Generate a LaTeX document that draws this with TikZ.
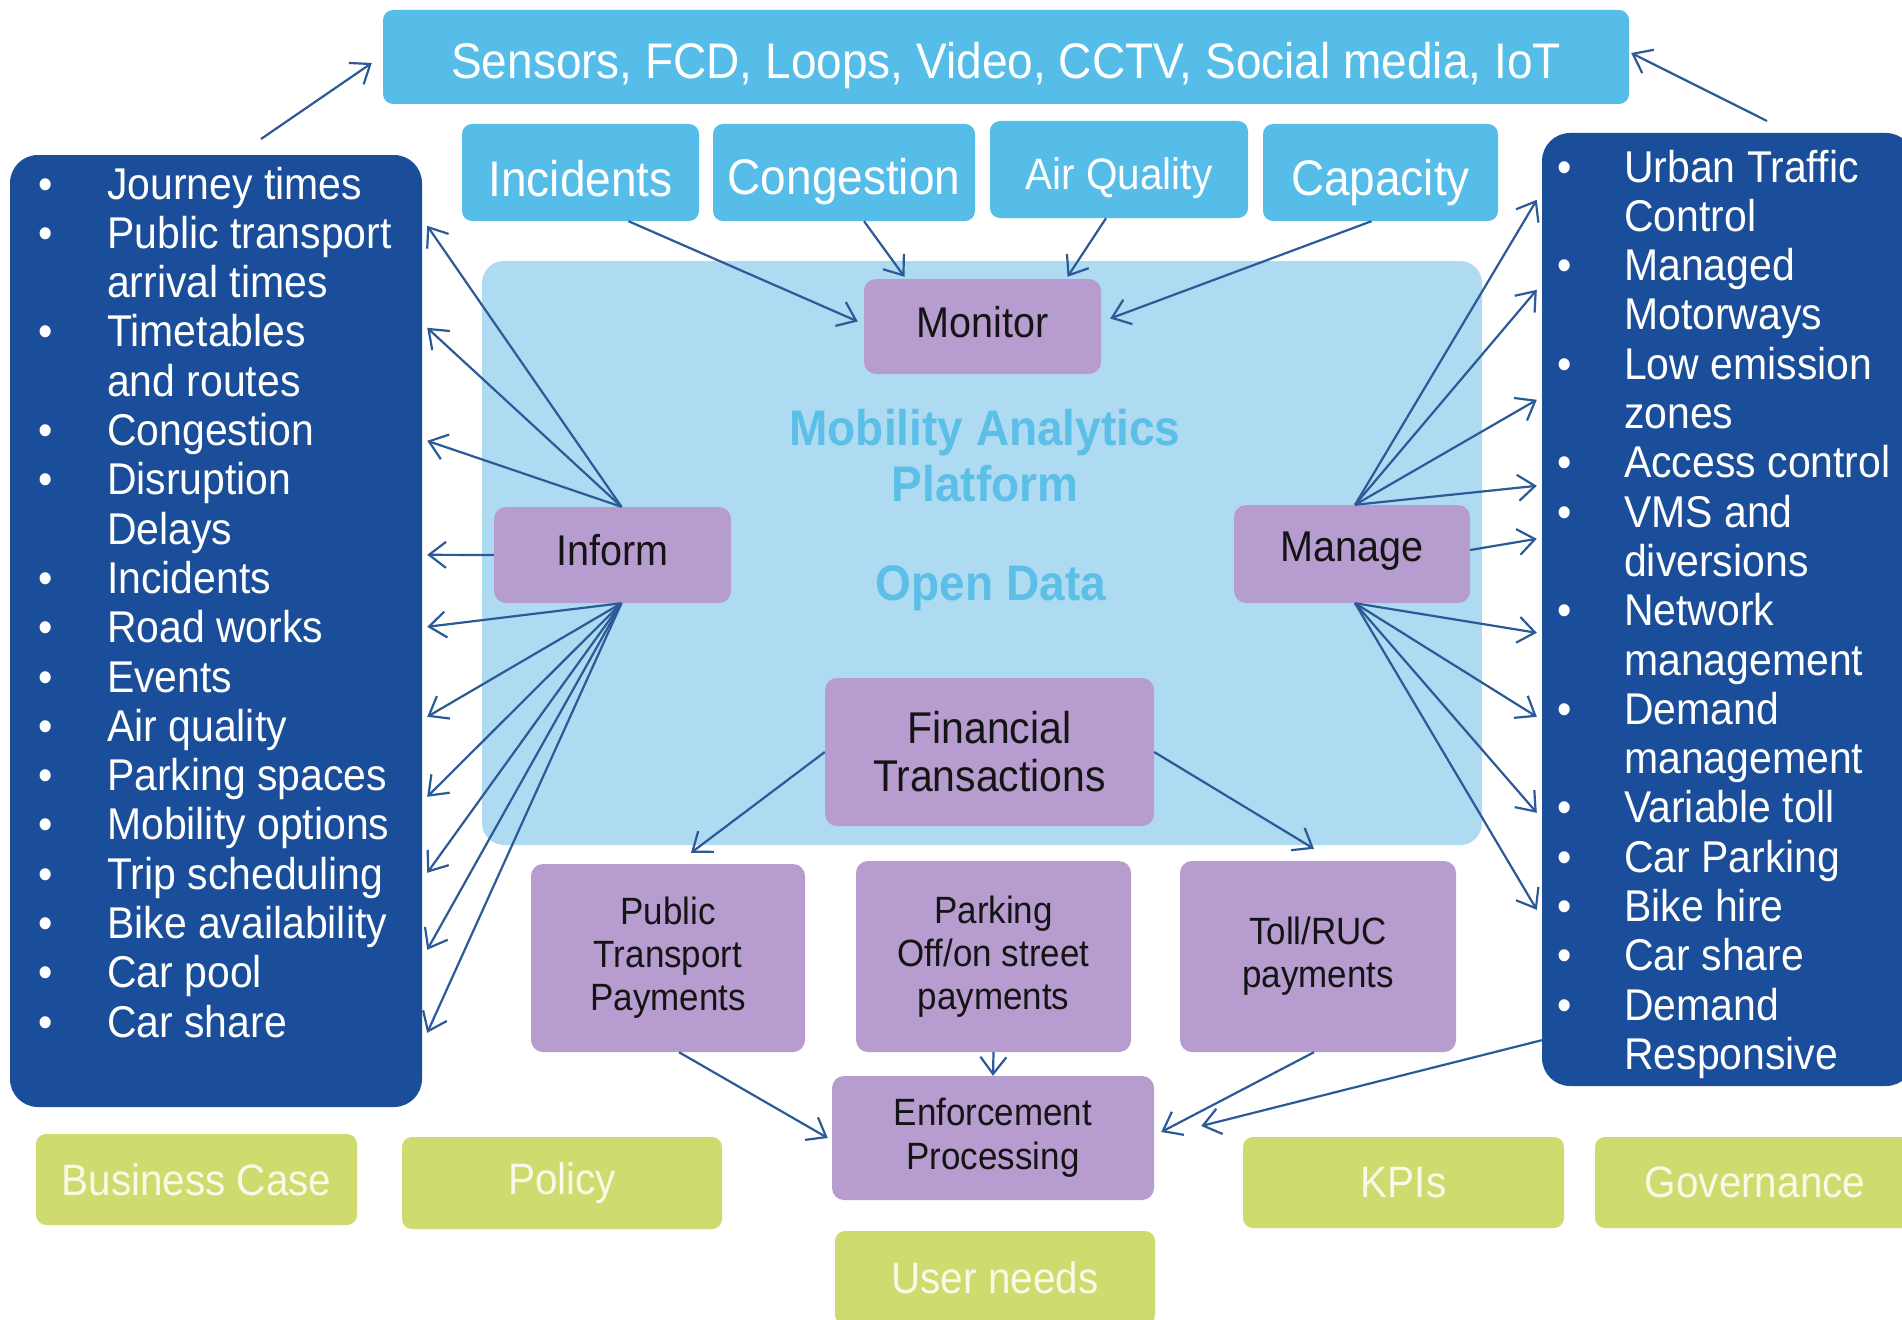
\documentclass[tikz,border=0pt]{standalone}
\usepackage{fontspec}
\setmainfont{Liberation Sans}[FakeStretch=0.92]
\usetikzlibrary{arrows.meta,calc}

\definecolor{skyblue}{HTML}{56BDE8}
\definecolor{platformblue}{HTML}{AEDAF2}
\definecolor{lavender}{HTML}{B69CCF}
\definecolor{navy}{HTML}{1B4E9A}
\definecolor{lime}{HTML}{CFDB6F}
\definecolor{limetext}{HTML}{F7FAE6}
\definecolor{labelblue}{HTML}{5CBFE7}
\definecolor{arrowblue}{HTML}{2B5A97}

\newcommand\fsz[2]{\fontsize{#1}{#2}\selectfont}

\begin{document}
\begin{tikzpicture}[x=1pt,y=-1pt,
  cyanbox/.style={fill=skyblue, rounded corners=10pt, inner sep=0pt, text=white, align=center, text depth=0pt},
  purplebox/.style={fill=lavender, rounded corners=12pt, inner sep=0pt, text=black!92, align=center},
  greenbox/.style={fill=lime, rounded corners=10pt, inner sep=0pt, text=limetext, align=center,
                   minimum width=320pt, minimum height=91pt, font=\fsz{44}{49}},
  listbox/.style={fill=navy, rounded corners=28pt, inner sep=0pt},
  listtext/.style={text=white, inner sep=0pt, anchor=base west, font=\fsz{44.5}{49.3}},
  link/.style={draw=arrowblue, line width=2.2pt, -{Straight Barb[length=17pt,width=26pt]}},
]
\useasboundingbox (0,0) rectangle (1902,1319);
\clip (0,0) rectangle (1902,1319);
\fill[white] (0,0) rectangle (1902,1319);

% platform background
\node[fill=platformblue, rounded corners=22pt, minimum width=1000pt, minimum height=584pt, inner sep=0pt]
  (platform) at (982,553) {};
\node[text=labelblue, font=\bfseries\fsz{50}{56}, align=center] (platformlabel) at (985,456)
  {Mobility Analytics\\Platform};
\node[text=labelblue, font=\bfseries\fsz{50}{56}] (opendata) at (991,588) {Open Data};

% data sources
\node[cyanbox, minimum width=1246pt, minimum height=94pt, font=\fsz{50}{55}, text height=44pt] (sensors) at (1006,57)
  {Sensors, FCD, Loops, Video, CCTV, Social media, IoT};
\node[cyanbox, minimum width=237pt, minimum height=97pt, font=\fsz{50}{55}, text height=47pt] (incidents) at (580.5,172.5) {Incidents};
\node[cyanbox, minimum width=262pt, minimum height=97pt, font=\fsz{50}{55}, text height=43pt] (congestion) at (844,172.5) {Congestion};
\node[cyanbox, minimum width=258pt, minimum height=97pt, font=\fsz{44}{49}, text height=40pt] (airq) at (1119,169.5) {Air Quality};
\node[cyanbox, minimum width=235pt, minimum height=97pt, font=\fsz{50}{55}, text height=45pt] (capacity) at (1380.5,172.5) {Capacity};

% platform functions
\node[purplebox, minimum width=237pt, minimum height=95pt, font=\fsz{43}{48}, text height=21pt, text depth=0pt] (monitor) at (982.5,326.5) {Monitor};
\node[purplebox, minimum width=237pt, minimum height=96pt, font=\fsz{43}{48}, text height=20pt, text depth=0pt] (inform) at (612.5,555) {Inform};
\node[purplebox, minimum width=236pt, minimum height=98pt, font=\fsz{43}{48}, text height=15pt, text depth=0pt] (manage) at (1352,554) {Manage};
\node[purplebox, minimum width=329pt, minimum height=148pt, font=\fsz{44.5}{48}] (financial) at (989.5,752)
  {Financial\\Transactions};

% payments
\node[purplebox, minimum width=274pt, minimum height=188pt, font=\fsz{38}{43}] (ptpay) at (668,958)
  {Public\\Transport\\Payments};
\node[purplebox, minimum width=275pt, minimum height=191pt, font=\fsz{38}{43}] (parkpay) at (993.5,956.5)
  {Parking\\Off/on street\\payments};
\node[purplebox, minimum width=276pt, minimum height=191pt, font=\fsz{38}{43}] (tollpay) at (1318,956.5)
  {Toll/RUC\\payments};
\node[purplebox, minimum width=322pt, minimum height=124pt, font=\fsz{38}{44}] (enforcement) at (993,1138)
  {Enforcement\\Processing};

% governance row
\node[greenbox, minimum width=321pt] (business) at (196.5,1179.5) {Business Case};
\node[greenbox, minimum height=92pt] (policy) at (562,1183) {Policy};
\node[greenbox, minimum width=321pt] (kpis) at (1403.5,1182.5) {KPIs};
\node[greenbox] (governance) at (1755,1182.5) {Governance};
\node[greenbox, minimum height=94pt] (userneeds) at (995,1278) {User needs};

% information outputs
\node[listbox, minimum width=412pt, minimum height=952pt] (informlist) at (216,631) {};
\node[listtext] (informitems) at (38,199) {%
  \begin{tabular}[t]{@{}p{69pt}@{}l@{}}
  \textbullet & Journey times\\
  \textbullet & Public transport\\
              & arrival times\\
  \textbullet & Timetables\\
              & and routes\\
  \textbullet & Congestion\\
  \textbullet & Disruption\\
              & Delays\\
  \textbullet & Incidents\\
  \textbullet & Road works\\
  \textbullet & Events\\
  \textbullet & Air quality\\
  \textbullet & Parking spaces\\
  \textbullet & Mobility options\\
  \textbullet & Trip scheduling\\
  \textbullet & Bike availability\\
  \textbullet & Car pool\\
  \textbullet & Car share
  \end{tabular}};

% management outputs
\node[listbox, minimum width=372pt, minimum height=953pt] (managelist) at (1728,609.5) {};
\node[listtext] (manageitems) at (1557,182) {%
  \begin{tabular}[t]{@{}p{67pt}@{}l@{}}
  \textbullet & Urban Traffic\\
              & Control\\
  \textbullet & Managed\\
              & Motorways\\
  \textbullet & Low emission\\
              & zones\\
  \textbullet & Access control\\
  \textbullet & VMS and\\
              & diversions\\
  \textbullet & Network\\
              & management\\
  \textbullet & Demand\\
              & management\\
  \textbullet & Variable toll\\
  \textbullet & Car Parking\\
  \textbullet & Bike hire\\
  \textbullet & Car share\\
  \textbullet & Demand\\
              & Responsive
  \end{tabular}};

% feedback to the data sources
\coordinate (srcL) at (261,139);
\coordinate (srcR) at (1767,121);
\draw[link] (srcL) -- ($(sensors.west)+(-11,6)$);
\draw[link] (srcR) -- ($(sensors.east)+(2,-4)$);

% inputs to Monitor
\draw[link] ($(incidents.south)+(48,0)$) -- ($(monitor.west)+(-6,-5)$);
\draw[link] ($(congestion.south)+(20,0)$) -- ($(monitor.north)+(-78,-2)$);
\draw[link] ($(airq.south)+(-13,0)$) -- ($(monitor.north)+(85,-2)$);
\draw[link] ($(capacity.south)+(-9,0)$) -- ($(monitor.east)+(9,-8)$);

% Inform fan
\foreach \dy in {71,173,286}
  \draw[link] ($(inform.north)+(9,0)$) -- ($(informlist.north east)+(5,\dy)$);
\draw[link] (inform.west) -- ($(informlist.north east)+(5,400)$);
\foreach \dy in {472,562,642,718,795,878}
  \draw[link] ($(inform.south)+(9,0)$) -- ($(informlist.north east)+(5,\dy)$);

% Manage fan
\foreach \dy in {67,157,267,353}
  \draw[link] ($(manage.north)+(3,0)$) -- ($(managelist.north west)+(-5,\dy)$);
\draw[link] ($(manage.east)+(0,-4)$) -- ($(managelist.north west)+(-5,406)$);
\foreach \dy in {500,584,680,777}
  \draw[link] ($(manage.south)+(3,0)$) -- ($(managelist.north west)+(-5,\dy)$);

% financial flows
\draw[link] (financial.west) -- ($(ptpay.north)+(23,-11)$);
\draw[link] (financial.east) -- ($(tollpay.north)+(-4,-12)$);

% enforcement
\draw[link] (parkpay.south) -- (enforcement.north);
\draw[link] ($(ptpay.south)+(11,0)$) -- ($(enforcement.west)+(-4,0)$);
\draw[link] ($(tollpay.south)+(-4,0)$) -- ($(enforcement.east)+(7,-6)$);
\draw[link] ($(managelist.south west)+(0,-46)$) -- ($(enforcement.east)+(47,-12)$);
\end{tikzpicture}
\end{document}
